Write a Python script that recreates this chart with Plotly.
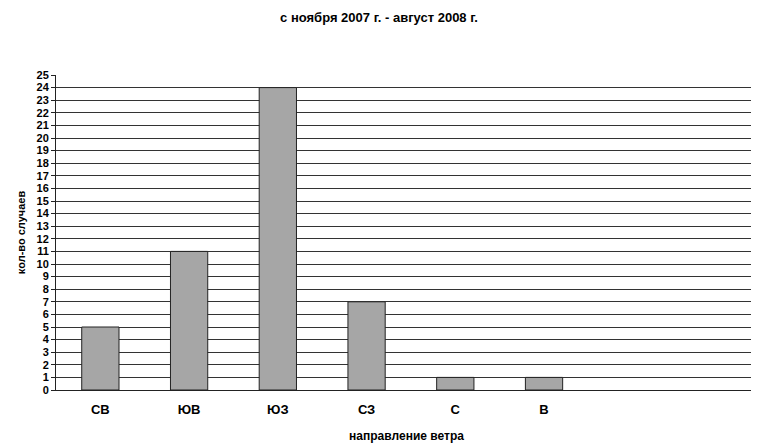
import plotly.graph_objects as go

categories = ["СВ", "ЮВ", "ЮЗ", "СЗ", "С", "В"]
values = [5, 11, 24, 7, 1, 1]
y_ticks = list(range(0, 26))

title_text = "с ноября 2007 г. - август 2008 г."
x_title = "направление ветра"
y_title = "кол-во случаев"

font_family = "Liberation Sans, Arial, sans-serif"

# page body has an 8px margin; figure is sized/margined to compensate
W, H = 751, 435

fig = go.Figure(
    go.Bar(
        x=categories,
        y=values,
        width=0.42,
        marker=dict(color="#a6a6a6", line=dict(color="#222222", width=1)),
    )
)

fig.update_layout(
    width=W,
    height=H,
    margin=dict(l=48, r=2, t=67, b=53),
    paper_bgcolor="white",
    plot_bgcolor="white",
    showlegend=False,
    font=dict(family=font_family, color="black"),
    title=dict(
        text=title_text,
        x=(379 - 8) / W,
        xanchor="center",
        y=1 - 9 / H,
        yanchor="middle",
        font=dict(size=13, family=font_family, color="black", weight="bold"),
    ),
)

fig.update_xaxes(
    type="category",
    range=[-0.5, 7.4],
    automargin=False,
    showline=True,
    linecolor="#222222",
    linewidth=1,
    showgrid=False,
    ticks="",
    tickfont=dict(size=13, family=font_family, color="black", weight="bold"),
    ticklabelstandoff=7,
    title=dict(text=x_title, font=dict(size=12, weight="bold"), standoff=18),
)

fig.update_yaxes(
    range=[0, 25],
    automargin=False,
    tickmode="array",
    tickvals=y_ticks,
    showline=True,
    linecolor="#222222",
    linewidth=1,
    showgrid=True,
    gridcolor="#333333",
    gridwidth=1,
    ticks="outside",
    ticklen=4,
    tickcolor="#222222",
    tickfont=dict(size=11, family=font_family, color="black", weight="bold"),
    zeroline=False,
    title=dict(text=y_title, font=dict(size=11, weight="bold"), standoff=8),
)

fig.write_html("out.html")
